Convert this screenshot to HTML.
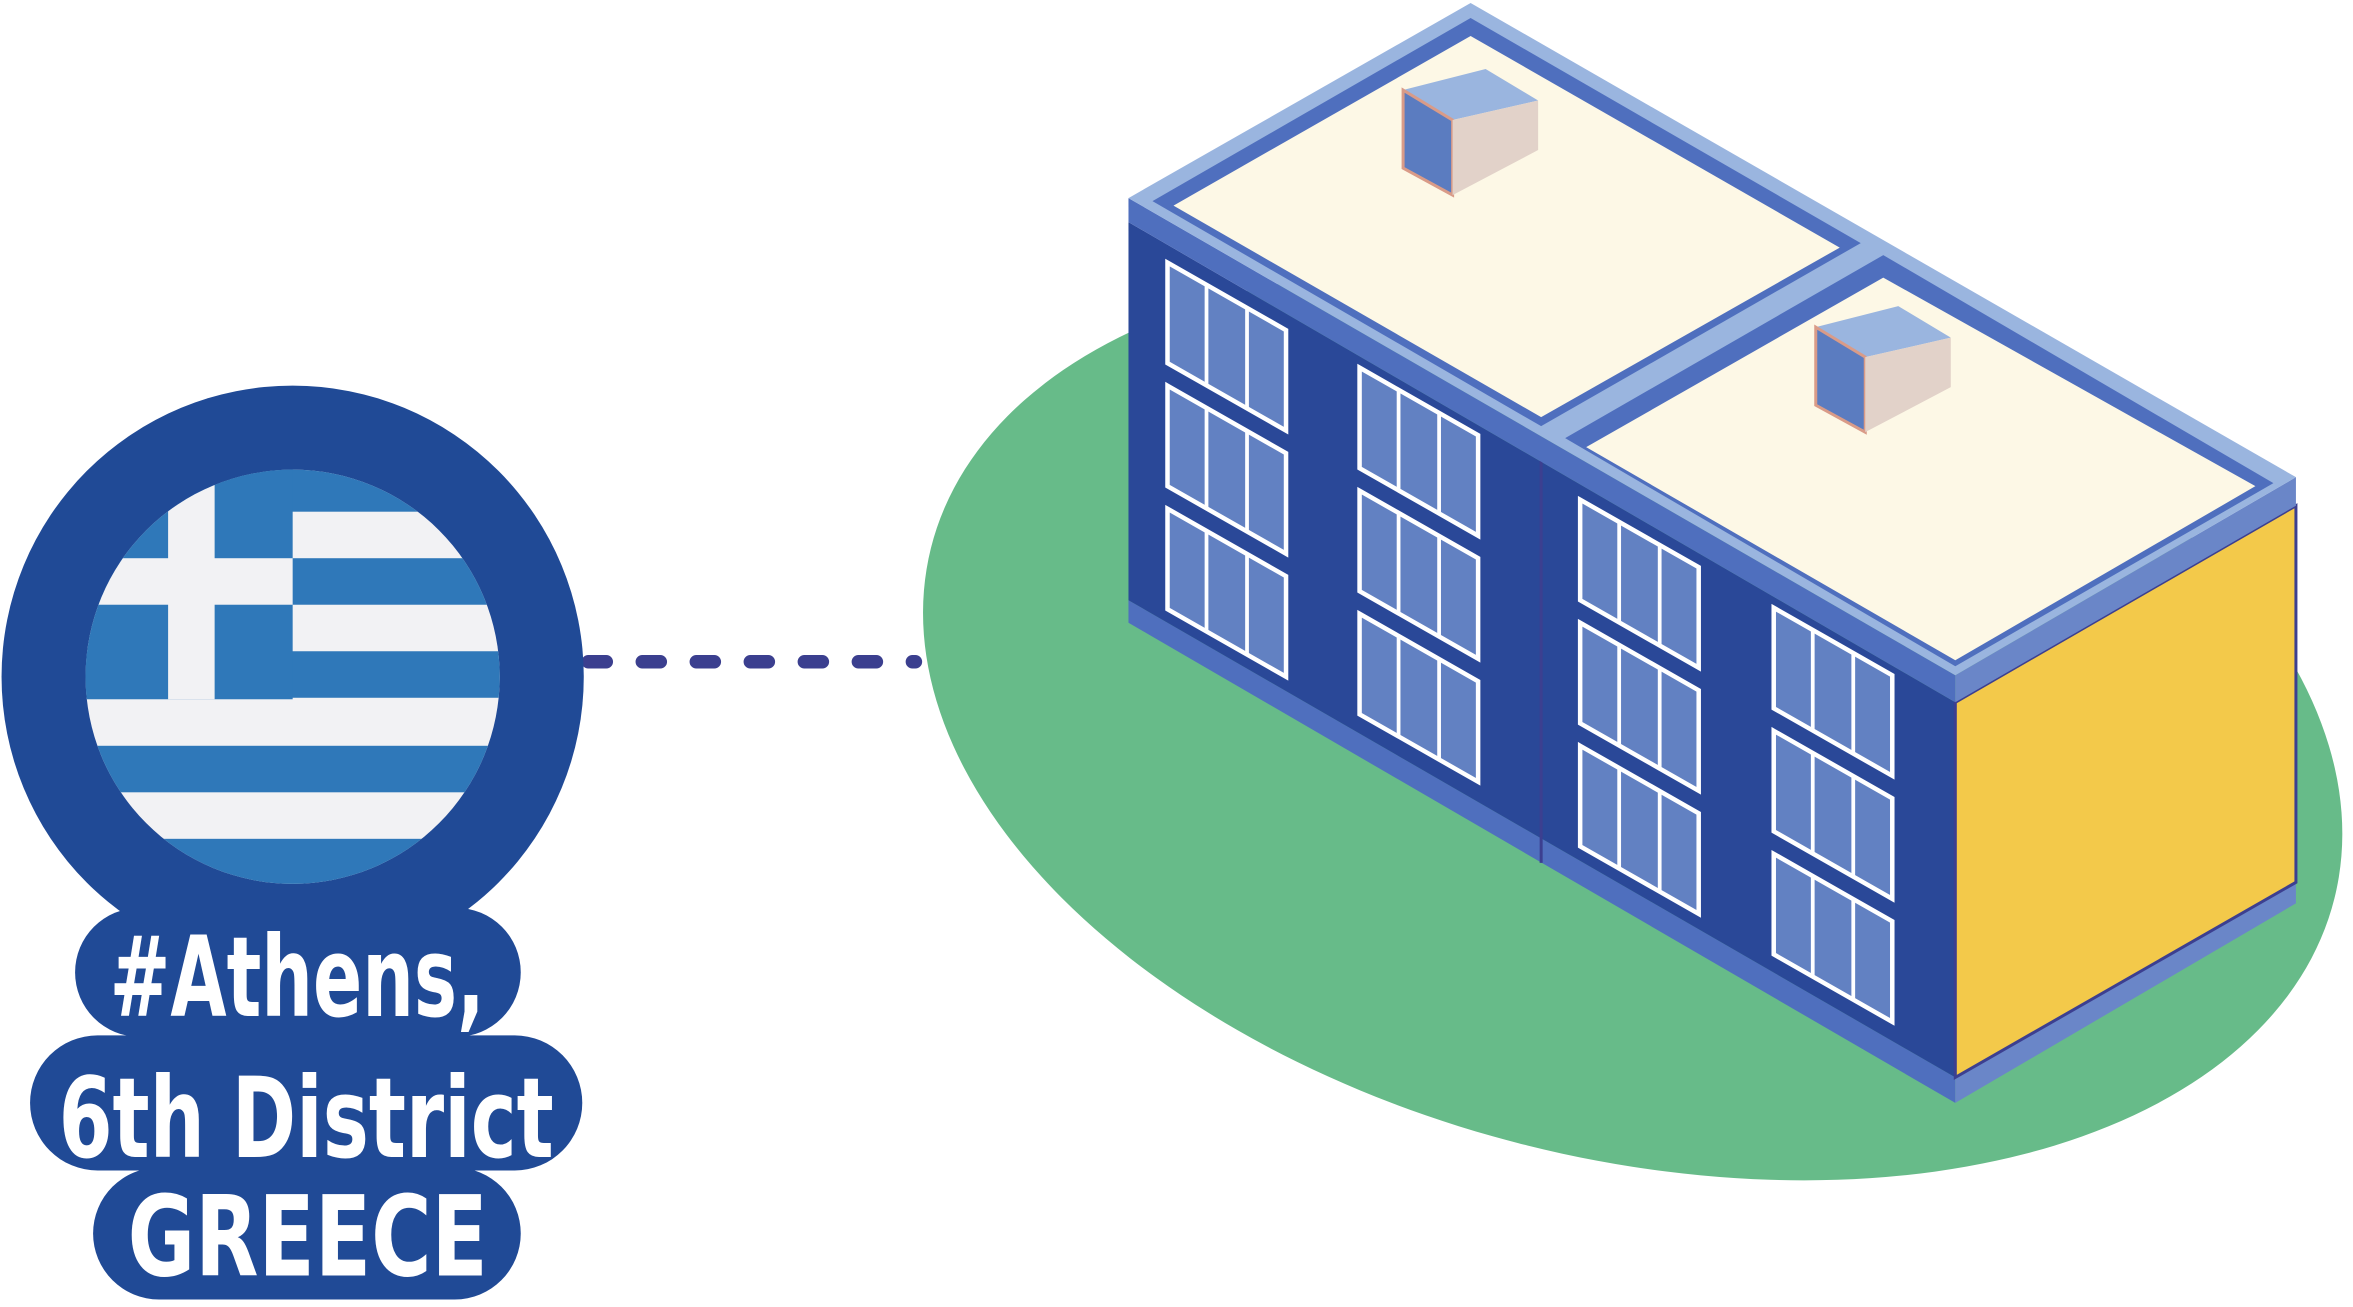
<!DOCTYPE html>
<html><head><meta charset="utf-8"><style>html,body{margin:0;padding:0;background:#fff;overflow:hidden;width:2353px;height:1307px}svg{display:block}</style></head>
<body>
<svg width="2353" height="1307" viewBox="0 0 1568 871" xmlns="http://www.w3.org/2000/svg">
<defs>
<clipPath id="fc"><circle cx="195" cy="451" r="138"/></clipPath>
<g id="win">
<polygon points="0,0 79,45 79,112 0,67" fill="#6281c2" stroke="#fff" stroke-width="3"/>
<line x1="26" y1="15" x2="26" y2="82" stroke="#fff" stroke-width="2.5"/>
<line x1="53" y1="30" x2="53" y2="97" stroke="#fff" stroke-width="2.5"/>
</g>
<g id="col"><use href="#win"/><use href="#win" y="82"/><use href="#win" y="164"/></g>
</defs>
<ellipse cx="1088" cy="482" rx="482" ry="290" transform="rotate(14 1088 482)" fill="#67bb89"/>
<line x1="392" y1="441" x2="610" y2="441" stroke="#3b3f8f" stroke-width="9" stroke-linecap="round" stroke-dasharray="12 24"/>
<polygon points="752,400 1303,718 1303,735 752,415" fill="#4f6fbe"/>
<polygon points="1303,718 1530,588 1530,602 1303,735" fill="#6a86c8"/>
<polygon points="752,148 1303,468 1303,718 752,400" fill="#2a4898"/>
<line x1="1027" y1="307" x2="1027" y2="575" stroke="#3c3f90" stroke-width="2"/>
<polygon points="1303,468 1530,337 1530,588 1303,718" fill="#f3c94a" stroke="#3c3f90" stroke-width="2"/>
<polygon points="752,132 1303,450 1303,468 752,148" fill="#4f6fbe"/>
<polygon points="1303,450 1530,318 1530,337 1303,468" fill="#6a86c8"/>
<polygon points="752,132 980,2 1530,318 1303,450" fill="#9ab5df"/>
<polygon points="768,134 980,12 1240,162 1027,284" fill="#4f6fbe"/>
<polygon points="1043,292 1255,170 1515,322 1303,444" fill="#4f6fbe"/>
<polygon points="782,137 980,24 1226,165 1027,278" fill="#fdf8e6"/>
<polygon points="1057,298 1255,185 1503,324 1303,440" fill="#fdf8e6"/>
<g id="box">
<polygon points="935,60 990,46 1025,67 968,80" fill="#9ab5df"/>
<polygon points="935,60 968,80 968,130 935,112" fill="#5b7cc0" stroke="#d99b88" stroke-width="2"/>
<polygon points="968,80 1025,67 1025,100 968,130" fill="#e2d2c9"/>
</g>
<use href="#box" x="275" y="158"/>
<use href="#col" x="778" y="175"/>
<use href="#col" x="906" y="245"/>
<use href="#col" x="1053" y="333"/>
<use href="#col" x="1182" y="405"/>
<circle cx="195" cy="451" r="194" fill="#204a96"/>
<g clip-path="url(#fc)">
<rect x="50" y="310" width="300" height="290" fill="#f2f2f4"/>
<g fill="#2f78b9">
<rect x="50" y="310" width="300" height="31"/>
<rect x="50" y="372" width="300" height="31"/>
<rect x="50" y="434" width="300" height="31"/>
<rect x="50" y="497" width="300" height="31"/>
<rect x="50" y="559" width="300" height="40"/>
<rect x="50" y="310" width="145" height="156"/>
</g>
<rect x="112" y="310" width="31" height="156" fill="#f2f2f4"/>
<rect x="50" y="372" width="145" height="31" fill="#f2f2f4"/>
</g>
<g fill="#204a96">
<rect x="50" y="605" width="297" height="86" rx="43"/>
<rect x="20" y="690" width="368" height="90" rx="45"/>
<rect x="62" y="778" width="285" height="88" rx="44"/>
</g>
<g fill="#fff" font-family="'DejaVu Sans Condensed','DejaVu Sans',sans-serif" font-weight="bold" font-size="74" text-anchor="middle">
<text x="198" y="677" textLength="250" lengthAdjust="spacingAndGlyphs">#Athens,</text>
<text x="204" y="771" textLength="330" lengthAdjust="spacingAndGlyphs">6th District</text>
<text x="205" y="850" textLength="240" lengthAdjust="spacingAndGlyphs">GREECE</text>
</g>
</svg>
</body></html>
